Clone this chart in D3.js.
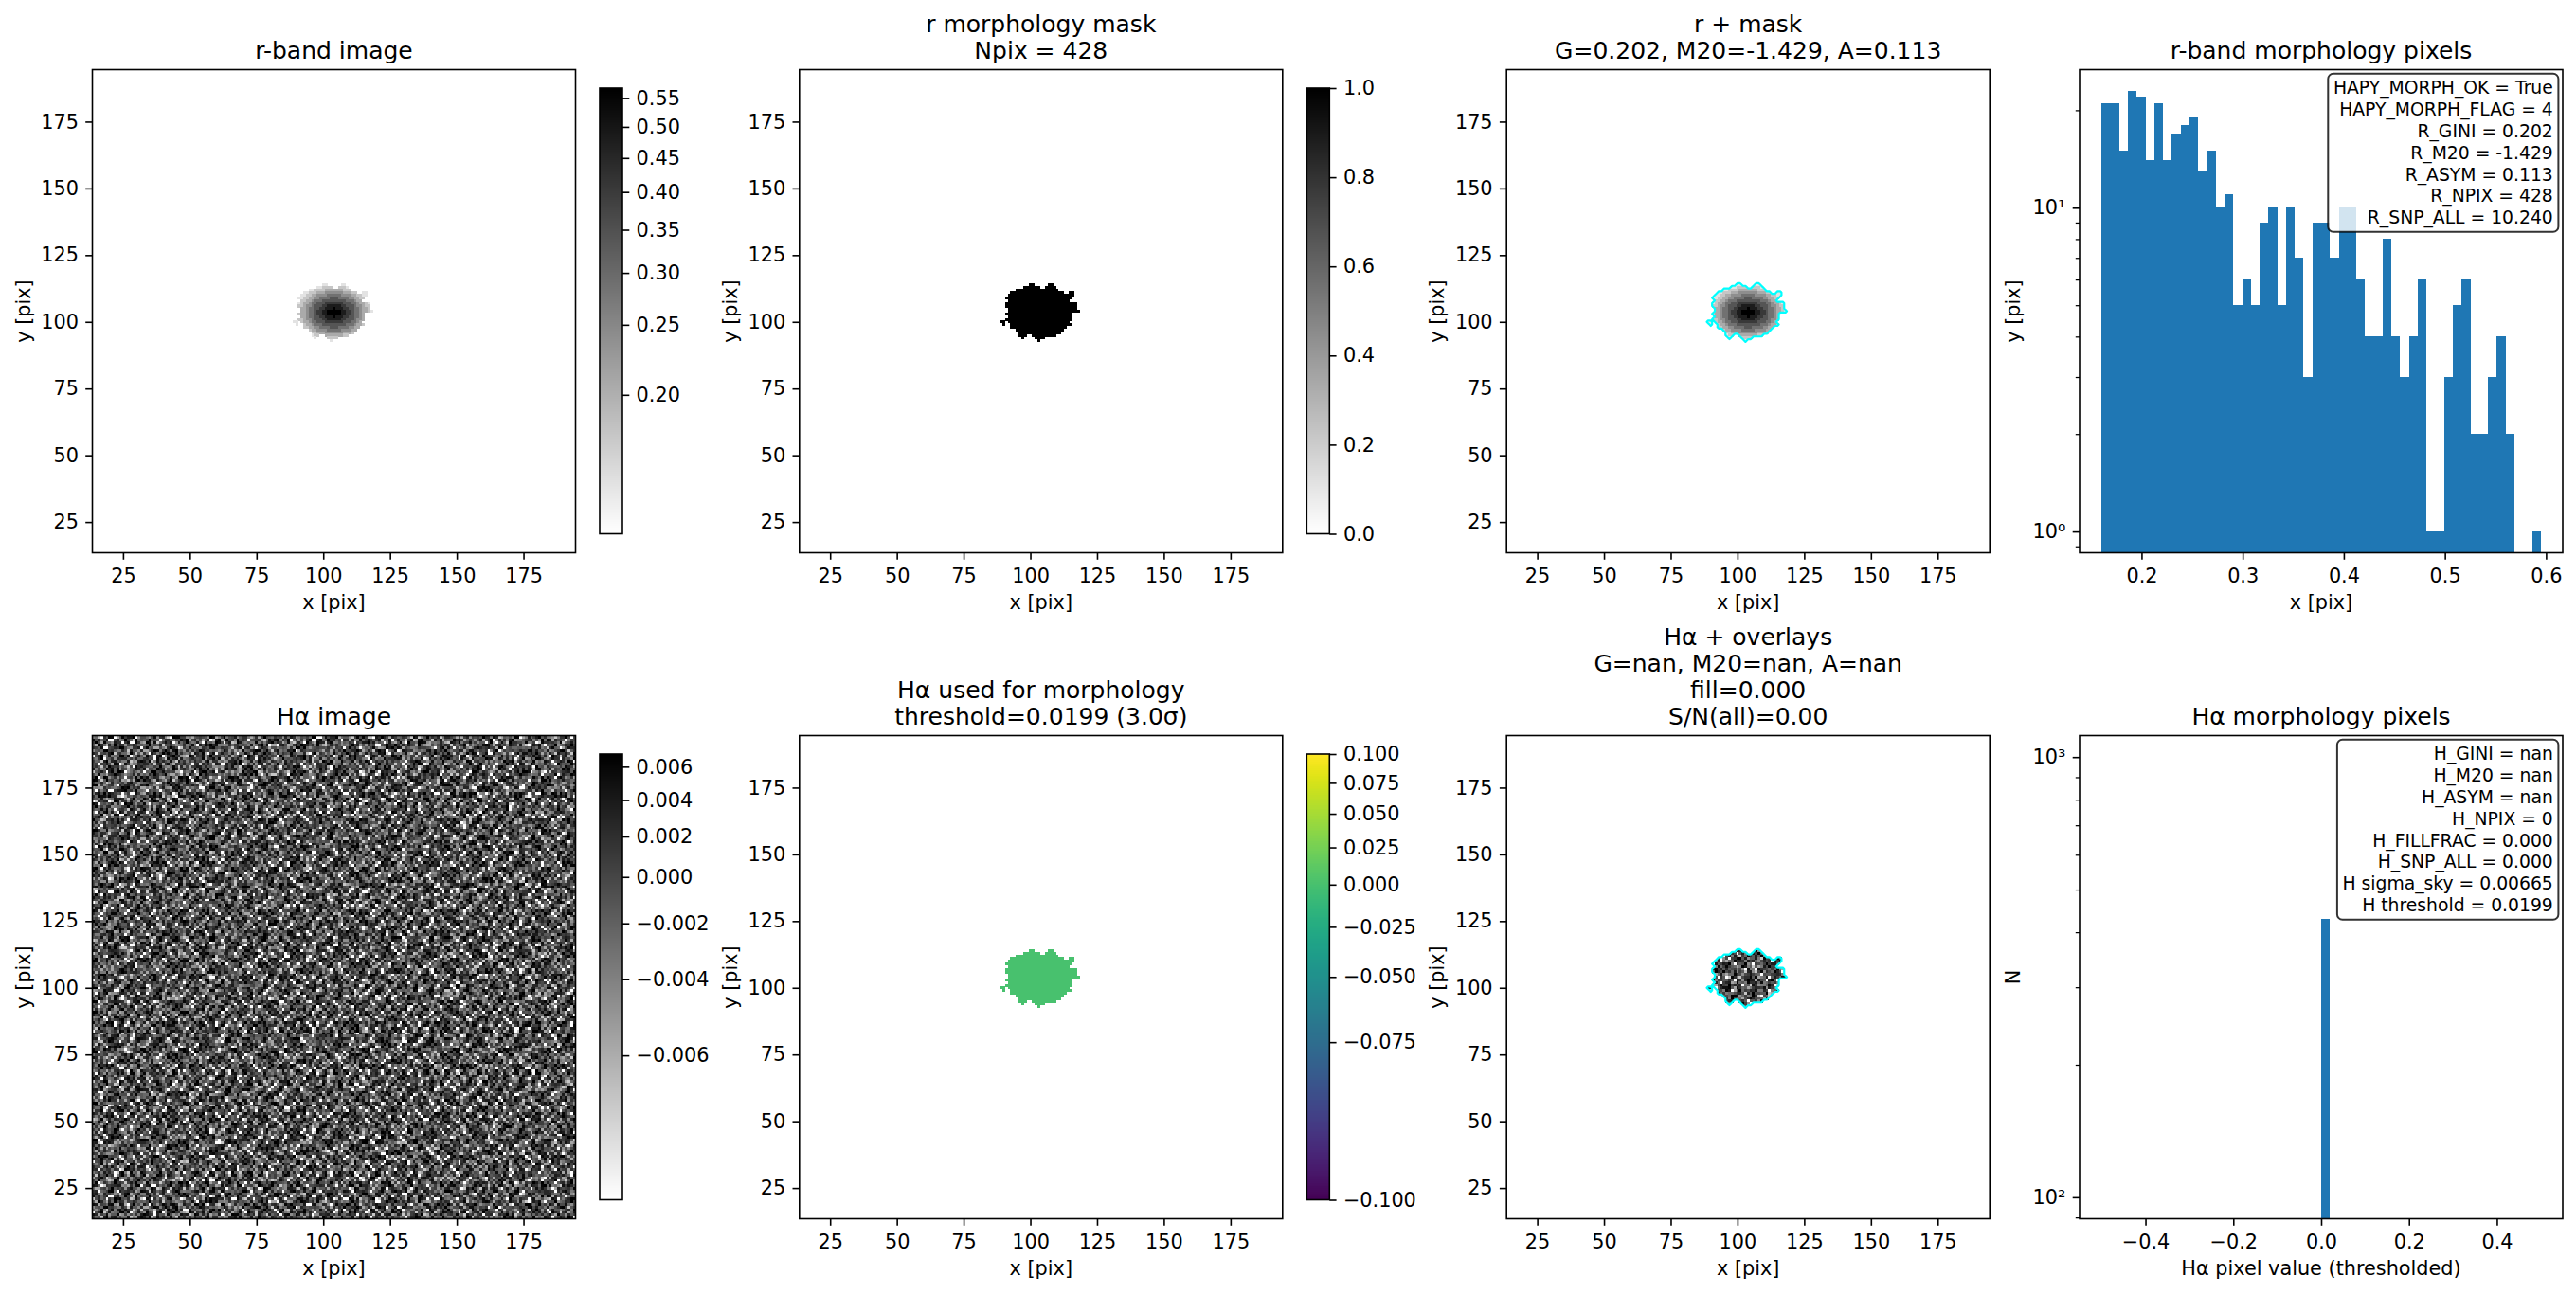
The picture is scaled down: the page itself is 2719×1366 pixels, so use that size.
<!DOCTYPE html>
<html><head><meta charset="utf-8">
<script src="https://cdn.jsdelivr.net/npm/d3@7"></script>
<style>
body{margin:0;background:#fff}
svg{display:block}
text{font-family:"DejaVu Sans",sans-serif;fill:#000}
</style>
</head><body>
<svg id="fig" width="2719" height="1366"></svg>
<script>
// ---------------- data ----------------
const imageTicks = [25, 50, 75, 100, 125, 150, 175];
const imgExtent = [13.5, 194.5];
const imgFirstPix = 14, imgLastPix = 194;

const rNorm = [0.1604, 0.5678];
const rCbarTicks = [0.20, 0.25, 0.30, 0.35, 0.40, 0.45, 0.50, 0.55];
const maskCbarTicks = [0.0, 0.2, 0.4, 0.6, 0.8, 1.0];
const haNorm = [-0.0075, 0.0068];
const haCbarTicks = [0.006, 0.004, 0.002, 0.000, -0.002, -0.004, -0.006];
const morphNorm = [-0.1, 0.1];
const morphCbarTicks = [0.100, 0.075, 0.050, 0.025, 0.000, -0.025, -0.050, -0.075, -0.100];
const morphMaskValue = 0.0;

// r-band morphology mask (x = 89..118, y = 114 down to 93); digit = display level (1 light .. 9 dark)
const blobX0 = 89, blobYTop = 114;
const blobRows = [
  "...........11.....11..........",
  ".........112222..2221.........",
  "......1122223333333222........",
  "....11222333444444433322..11..",
  "...1122334444555554444332211..",
  "..1122334455556665555443322...",
  "...22334555666666666555433....",
  "..123345566677777776665543321.",
  "..223445666778888877666544322.",
  "...33455667788898887766554332.",
  "...334556778899999887765543321",
  "..2334556778899999887765543...",
  "...334556677888988877665543...",
  "..2234456667788888776665443...",
  "11.23345566677777776665543....",
  ".1..23345556666666665554332...",
  "....223344555566655554433.....",
  "......233444455555444433......",
  ".......2233344444443332.......",
  ".......122..333333322.........",
  "........1....2222.............",
  "..............1..............."
];

// H-alpha sky texture, read as two small tiles of levels (0..9)
const haTileA = [
  "38162749501836274","91735028463917205","46208391758240316","72951046382759148",
  "05384719260483572","68417250936174803","29630584172965041","51872936045318769",
  "84059163728406195","17346802519637428","93580471836052917","40217958364129580",
  "76493015287493632","25768340951786014","08145697203548371","63902184576021859",
  "57321869048315726"
];
const haTileB = [
  "5172903846152739046","8304617295083164725","2659380417962805139","7013524968317492680",
  "4986172053649120857","1348095726481357094","6725841390275986413","0491736582104673258",
  "3867250149536208971","9150468327915840362","2734916058370261549","5608327941658493017",
  "8472059613284759360","1925684370126035894","6081473925843167205","4357910862697524183",
  "9268345107512086437","0713628594340918672","3549182736069352518"
];

// histograms
const rHistCounts = [21,21,15,23,22,14,21,14,17,18,19,13,15,10,11,5,6,5,9,10,5,10,7,3,9,9,7,10,10,6,4,4,8,4,3,4,6,1,1,3,5,6,2,2,3,4,2,0,0,1];
const rHistRange = [0.1604, 0.5948];
const rHistXLim = [0.1387, 0.6165];
const rHistYLim = [0.86, 26.7];
const rHistXTicks = [0.2, 0.3, 0.4, 0.5, 0.6];
const rHistYMajor = [1, 10];

const hHistCounts = [0,0,0,0,0,0,0,0,0,0,0,0,0,0,0,0,0,0,0,0,0,0,0,0,0,428,0,0,0,0,0,0,0,0,0,0,0,0,0,0,0,0,0,0,0,0,0,0,0,0];
const hHistRange = [-0.5, 0.5];
const hHistXLim = [-0.55, 0.55];
const hHistYLim = [89.4, 1119];
const hHistXTicks = [-0.4, -0.2, 0.0, 0.2, 0.4];
const hHistYMajor = [100, 1000];

const rInfo = ["HAPY_MORPH_OK = True","HAPY_MORPH_FLAG = 4","R_GINI = 0.202","R_M20 = -1.429","R_ASYM = 0.113","R_NPIX = 428","R_SNP_ALL = 10.240"];
const hInfo = ["H_GINI = nan","H_M20 = nan","H_ASYM = nan","H_NPIX = 0","H_FILLFRAC = 0.000","H_SNP_ALL = 0.000","H sigma_sky = 0.00665","H threshold = 0.0199"];

const titles = [
  [["r-band image"], ["r morphology mask","Npix = 428"], ["r + mask","G=0.202, M20=-1.429, A=0.113"], ["r-band morphology pixels"]],
  [["Hα image"], ["Hα used for morphology","threshold=0.0199 (3.0σ)"], ["Hα + overlays","G=nan, M20=nan, A=nan","fill=0.000","S/N(all)=0.00"], ["Hα morphology pixels"]]
];

// ---------------- layout ----------------
const svg = d3.select("#fig");
const FS_TICK = 20.8, FS_TITLE = 25, FS_BOX = 18.75;
const TICK = 7.3, MINOR = 4.2, LW = 1.6;
const AX = 510;
const colLeft = [97.5, 843.8, 1590.2, 2195];
const rowTop = [73.5, 776.5];
const CB_DX = 535.5, CB_W = 24, CB_DY = 19.5, CB_H = 470.5;
const grayR = d3.interpolateRgb("#ffffff", "#000000");
let clipId = 0;

function sqrtNorm(norm) {
  const s = d3.scaleSqrt().domain([0, norm[1] - norm[0]]).range([0, 1]).clamp(true);
  return v => s(v - norm[0]);
}
const rT = sqrtNorm(rNorm), haT = sqrtNorm(haNorm), morphT = sqrtNorm(morphNorm);

function styleAxis(g, fs) {
  g.attr("font-family", null).attr("font-size", null);
  g.select(".domain").remove();
  g.selectAll(".tick line").attr("stroke", "#000").attr("stroke-width", LW);
  g.selectAll(".tick text").attr("font-size", fs).attr("fill", "#000");
}

function title(left, top, lines) {
  const n = lines.length;
  lines.forEach((t, i) => {
    svg.append("text").attr("x", left + AX / 2).attr("y", top - 11.5 - (n - 1 - i) * 28)
      .attr("text-anchor", "middle").attr("font-size", FS_TITLE).text(t);
  });
}
function labels(left, top, xl, yl, yoff) {
  svg.append("text").attr("x", left + AX / 2).attr("y", top + AX + 59.5)
    .attr("text-anchor", "middle").attr("font-size", FS_TICK).text(xl);
  svg.append("text").attr("transform", `translate(${left - yoff},${top + AX / 2}) rotate(-90)`)
    .attr("dy", "0.35em").attr("text-anchor", "middle").attr("font-size", FS_TICK).text(yl);
}
function frame(left, top) {
  svg.append("rect").attr("x", left).attr("y", top).attr("width", AX).attr("height", AX)
    .attr("fill", "none").attr("stroke", "#000").attr("stroke-width", LW);
}

function imagePanel(col, row) {
  const left = colLeft[col], top = rowTop[row];
  const xs = d3.scaleLinear().domain(imgExtent).range([left, left + AX]);
  const ys = d3.scaleLinear().domain(imgExtent).range([top + AX, top]);
  const id = "clip" + (clipId++);
  svg.append("clipPath").attr("id", id).append("rect")
    .attr("x", left).attr("y", top).attr("width", AX).attr("height", AX);
  const g = svg.append("g").attr("clip-path", `url(#${id})`);
  return {left, top, xs, ys, g};
}
function finishImagePanel(p, col, row) {
  frame(p.left, p.top);
  const gx = svg.append("g").attr("transform", `translate(0,${p.top + AX})`)
    .call(d3.axisBottom(p.xs).tickValues(imageTicks).tickSize(TICK).tickPadding(9.5).tickFormat(d3.format("d")));
  styleAxis(gx, FS_TICK);
  const gy = svg.append("g").attr("transform", `translate(${p.left},0)`)
    .call(d3.axisLeft(p.ys).tickValues(imageTicks).tickSize(TICK).tickPadding(TICK).tickFormat(d3.format("d")));
  styleAxis(gy, FS_TICK);
  title(p.left, p.top, titles[row][col]);
  labels(p.left, p.top, "x [pix]", "y [pix]", 73);
}
function drawPixels(p, pix) {
  p.g.append("g").attr("shape-rendering", "crispEdges").selectAll("rect").data(pix).join("rect")
    .attr("x", d => p.xs(d.x - 0.5))
    .attr("y", d => p.ys(d.y + 0.5))
    .attr("width", d => p.xs(d.x + 0.5) - p.xs(d.x - 0.5) + 0.3)
    .attr("height", d => p.ys(d.y - 0.5) - p.ys(d.y + 0.5) + 0.3)
    .attr("fill", d => d.c);
}

// mask pixels
const blobPix = [];
blobRows.forEach((row, j) => {
  for (let i = 0; i < row.length; i++) {
    if (row[i] === ".") continue;
    blobPix.push({x: blobX0 + i, y: blobYTop - j, level: +row[i]});
  }
});
const rValue = lev => rNorm[0] + Math.pow(lev / 9, 2) * (rNorm[1] - rNorm[0]);

// H-alpha sky: tile A read in 2x2 blocks, tile B read transposed, levels summed
function haValue(x, y) {
  const ix = x - imgFirstPix, iy = y - imgFirstPix;
  const ra = haTileA[(iy >> 1) % haTileA.length];
  const rb = haTileB[ix % haTileB.length];
  const L0 = (+ra[(ix >> 1) % ra.length] + +rb[iy % rb.length]) / 18;
  const L = Math.max(0, Math.min(1, 0.5 + 1.35 * (L0 - 0.5)));
  return haNorm[1] - L * (haNorm[1] - haNorm[0]);
}
const haPix = [];
for (let y = imgFirstPix; y <= imgLastPix; y++)
  for (let x = imgFirstPix; x <= imgLastPix; x++)
    haPix.push({x, y, c: grayR(haT(haValue(x, y)))});

// contour of mask
const GW = blobRows[0].length + 2, GH = blobRows.length + 2;
const grid = new Array(GW * GH).fill(0);
blobPix.forEach(d => { grid[(blobYTop - d.y + 1) * GW + (d.x - blobX0 + 1)] = 1; });
const maskContours = d3.contours().size([GW, GH]).thresholds([0.5])(grid);
function drawContour(p) {
  const path = d3.geoPath(d3.geoTransform({
    point(x, y) { this.stream.point(p.xs(blobX0 - 1.5 + x), p.ys(blobYTop + 1.5 - y)); }
  }));
  p.g.selectAll("path.ct").data(maskContours).join("path").attr("class", "ct")
    .attr("d", path).attr("fill", "none").attr("stroke", "#00ffff").attr("stroke-width", 2.2)
    .attr("stroke-linejoin", "round");
}

function colorbar(col, row, norm, ticks, fmt, cmap, isSqrt) {
  const x0 = colLeft[col] + CB_DX, y0 = rowTop[row] + CB_DY;
  const N = 256;
  const steps = d3.range(N);
  svg.append("g").attr("shape-rendering", "crispEdges").selectAll("rect").data(steps).join("rect")
    .attr("x", x0).attr("width", CB_W)
    .attr("y", i => y0 + CB_H * (1 - (i + 1) / N))
    .attr("height", CB_H / N + 0.6)
    .attr("fill", i => cmap((i + 0.5) / N));
  svg.append("rect").attr("x", x0).attr("y", y0).attr("width", CB_W).attr("height", CB_H)
    .attr("fill", "none").attr("stroke", "#000").attr("stroke-width", LW);
  const sc = (isSqrt ? d3.scaleSqrt() : d3.scaleLinear()).domain([0, norm[1] - norm[0]]).range([y0 + CB_H, y0]);
  const g = svg.append("g").attr("transform", `translate(${x0 + CB_W},0)`)
    .call(d3.axisRight(sc).tickValues(ticks.map(t => t - norm[0])).tickSize(TICK).tickPadding(TICK)
      .tickFormat(d => fmt(d + norm[0])));
  styleAxis(g, FS_TICK);
}

function histPanel(col, row, counts, range, xlim, ylim, xticks, ymajor, xfmt, xl, yl, info) {
  const left = colLeft[col], top = rowTop[row];
  const xs = d3.scaleLinear().domain(xlim).range([left, left + AX]);
  const ys = d3.scaleLog().domain(ylim).range([top + AX, top]);
  const id = "clip" + (clipId++);
  svg.append("clipPath").attr("id", id).append("rect")
    .attr("x", left).attr("y", top).attr("width", AX).attr("height", AX);
  const bw = (range[1] - range[0]) / counts.length;
  const bins = counts.map((c, i) => ({lo: range[0] + i * bw, hi: range[0] + (i + 1) * bw, c})).filter(d => d.c > 0);
  svg.append("g").attr("clip-path", `url(#${id})`).attr("shape-rendering", "crispEdges")
    .selectAll("rect").data(bins).join("rect")
    .attr("x", d => xs(d.lo)).attr("width", d => xs(d.hi) - xs(d.lo))
    .attr("y", d => ys(d.c)).attr("height", d => top + AX - ys(d.c))
    .attr("fill", "#1f77b4");
  // info box
  const bx = svg.append("g");
  const rect = bx.append("rect");
  const x1 = left + AX - 0.02 * AX, firstBase = top + 25.2, lh = 22.95;
  const tnodes = info.map((t, i) => bx.append("text").attr("x", x1).attr("y", firstBase + i * lh)
    .attr("text-anchor", "end").attr("font-size", FS_BOX).text(t));
  let minX = Infinity;
  tnodes.forEach(t => { minX = Math.min(minX, t.node().getBBox().x); });
  const lastBase = firstBase + (info.length - 1) * lh;
  rect.attr("x", minX - 5.6).attr("y", firstBase - 21).attr("width", x1 - minX + 11.2)
    .attr("height", lastBase + 8.4 - (firstBase - 21)).attr("rx", 5.6).attr("ry", 5.6)
    .attr("fill", "#fff").attr("fill-opacity", 0.8).attr("stroke", "#000").attr("stroke-opacity", 0.8)
    .attr("stroke-width", 2);
  frame(left, top);
  const gx = svg.append("g").attr("transform", `translate(0,${top + AX})`)
    .call(d3.axisBottom(xs).tickValues(xticks).tickSize(TICK).tickPadding(9.5).tickFormat(xfmt));
  styleAxis(gx, FS_TICK);
  const sup = {"0": "⁰", "1": "¹", "2": "²", "3": "³"};
  const gy = svg.append("g").attr("transform", `translate(${left},0)`)
    .call(d3.axisLeft(ys).tickValues(ymajor).tickSize(TICK).tickPadding(TICK)
      .tickFormat(d => "10" + sup[String(Math.round(Math.log10(d)))]));
  styleAxis(gy, FS_TICK);
  const minors = ys.ticks().filter(v => Math.abs(Math.log10(v) - Math.round(Math.log10(v))) > 1e-6);
  const gm = svg.append("g").attr("transform", `translate(${left},0)`)
    .call(d3.axisLeft(ys).tickValues(minors).tickSize(MINOR).tickFormat(""));
  styleAxis(gm, FS_TICK);
  gm.selectAll(".tick line").attr("stroke-width", 1.25);
  title(left, top, titles[row][col]);
  labels(left, top, xl, yl, 70.5);
}

// ---------------- panels ----------------
{
  const p = imagePanel(0, 0);
  drawPixels(p, blobPix.map(d => ({x: d.x, y: d.y, c: grayR(rT(rValue(d.level)))})));
  finishImagePanel(p, 0, 0);
  colorbar(0, 0, rNorm, rCbarTicks, d3.format(".2f"), grayR, true);
}
{
  const p = imagePanel(1, 0);
  drawPixels(p, blobPix.map(d => ({x: d.x, y: d.y, c: grayR(1)})));
  finishImagePanel(p, 1, 0);
  colorbar(1, 0, [0, 1], maskCbarTicks, d3.format(".1f"), grayR, false);
}
{
  const p = imagePanel(2, 0);
  drawPixels(p, blobPix.map(d => ({x: d.x, y: d.y, c: grayR(rT(rValue(d.level)))})));
  drawContour(p);
  finishImagePanel(p, 2, 0);
}
histPanel(3, 0, rHistCounts, rHistRange, rHistXLim, rHistYLim, rHistXTicks, rHistYMajor,
  d3.format(".1f"), "x [pix]", "y [pix]", rInfo);

{
  const p = imagePanel(0, 1);
  drawPixels(p, haPix);
  finishImagePanel(p, 0, 1);
  colorbar(0, 1, haNorm, haCbarTicks, d3.format(".3f"), grayR, true);
}
{
  const p = imagePanel(1, 1);
  drawPixels(p, blobPix.map(d => ({x: d.x, y: d.y, c: d3.interpolateViridis(morphT(morphMaskValue))})));
  finishImagePanel(p, 1, 1);
  colorbar(1, 1, morphNorm, morphCbarTicks, d3.format(".3f"), d3.interpolateViridis, true);
}
{
  const p = imagePanel(2, 1);
  drawPixels(p, blobPix.map(d => ({x: d.x, y: d.y, c: grayR(haT(haValue(d.x, d.y)))})));
  drawContour(p);
  finishImagePanel(p, 2, 1);
}
histPanel(3, 1, hHistCounts, hHistRange, hHistXLim, hHistYLim, hHistXTicks, hHistYMajor,
  d3.format(".1f"), "Hα pixel value (thresholded)", "N", hInfo);
</script>
</body></html>
